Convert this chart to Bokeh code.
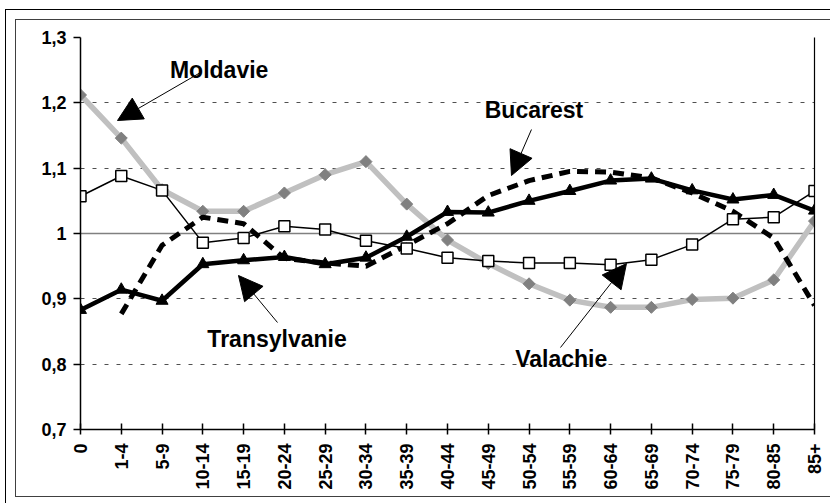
import math
from bokeh.plotting import figure
from bokeh.models import (Range1d, FixedTicker, CustomJSTickFormatter, LinearAxis, Span,
                          Label, Arrow, NormalHead, ColumnDataSource)
from bokeh.embed import file_html
from bokeh.resources import INLINE

age_groups = ["0", "1-4", "5-9", "10-14", "15-19", "20-24", "25-29", "30-34", "35-39",
              "40-44", "45-49", "50-54", "55-59", "60-64", "65-69", "70-74", "75-79",
              "80-85", "85+"]
moldavie = [1.212, 1.146, 1.067, 1.034, 1.034, 1.062, 1.090, 1.110, 1.045, 0.990,
            0.954, 0.923, 0.898, 0.887, 0.887, 0.899, 0.901, 0.929, 1.019]
valachie = [1.057, 1.088, 1.066, 0.986, 0.993, 1.011, 1.006, 0.989, 0.977, 0.963,
            0.958, 0.955, 0.955, 0.952, 0.960, 0.983, 1.022, 1.025, 1.065]
transylvanie = [0.883, 0.914, 0.897, 0.953, 0.959, 0.964, 0.953, 0.963, 0.995, 1.033,
                1.032, 1.050, 1.065, 1.081, 1.084, 1.066, 1.052, 1.059, 1.035]
bucarest = [float("nan"), 0.877, 0.982, 1.025, 1.015, 0.962, 0.955, 0.950, 0.982, 1.015,
            1.058, 1.081, 1.095, 1.094, 1.085, 1.062, 1.034, 0.993, 0.890]
y_ticks = [0.7, 0.8, 0.9, 1.0, 1.1, 1.2, 1.3]

xs = list(range(len(age_groups)))
src = ColumnDataSource(dict(x=xs, mol=moldavie, val=valachie, tra=transylvanie, buc=bucarest))

FONT = "Liberation Sans"

p = figure(width=830, height=478, output_backend="svg", toolbar_location=None,
           x_range=Range1d(0, len(age_groups) - 1), y_range=Range1d(0.7, 1.3),
           min_border_left=64, min_border_right=32, min_border_top=17, min_border_bottom=69)
p.styles = {"margin-left": "15px", "margin-top": "19px",
            "border": "1px solid #404040",
            "box-shadow": "0 0 0 9px white, 0 0 0 10px black"}
p.outline_line_color = None
p.background_fill_color = "white"
p.border_fill_color = "white"

# axes
p.xaxis.ticker = FixedTicker(ticks=xs)
p.xaxis.major_label_overrides = {i: s for i, s in enumerate(age_groups)}
p.xaxis.major_label_orientation = math.pi / 2
p.xaxis.major_tick_in = 6
p.xaxis.major_tick_out = 5
p.xaxis.minor_tick_line_color = None
p.xaxis.major_label_standoff = 9

p.yaxis.ticker = FixedTicker(ticks=y_ticks)
p.yaxis.formatter = CustomJSTickFormatter(
    code="return tick.toFixed(1).replace('.', ',').replace(',0', '');")
p.yaxis.major_tick_in = 0
p.yaxis.major_tick_out = 7
p.yaxis.minor_tick_line_color = None
p.yaxis.major_label_standoff = 7

for ax in (p.xaxis, p.yaxis):
    ax.axis_line_color = "black"
    ax.axis_line_width = 1.5
    ax.major_tick_line_color = "black"
    ax.major_tick_line_width = 1.5
    ax.major_label_text_font = FONT
    ax.major_label_text_font_style = "bold"
    ax.major_label_text_font_size = "18px"
    ax.major_label_text_color = "black"

right_ax = LinearAxis(major_tick_line_color=None, minor_tick_line_color=None,
                      major_label_text_font_size="0px", axis_line_color="black",
                      axis_line_width=1.2)
right_ax.ticker = FixedTicker(ticks=[])
p.add_layout(right_ax, "right")

p.xgrid.visible = False
p.ygrid.ticker = FixedTicker(ticks=y_ticks)
p.ygrid.grid_line_color = "#505050"
p.ygrid.grid_line_dash = "4 8"
p.ygrid.grid_line_width = 1

p.add_layout(Span(location=1.0, dimension="width", line_color="#808080", line_width=1.3,
                  level="underlay"))

# series
p.line("x", "mol", source=src, line_color="#C0C0C0", line_width=5.5)
p.scatter("x", "mol", source=src, marker="square", angle=math.pi / 4, size=8.5,
          fill_color="#808080", line_color="#808080")
p.line("x", "buc", source=src, line_color="black", line_width=5, line_dash="11 7")
p.line("x", "tra", source=src, line_color="black", line_width=4.5)
p.scatter("x", "tra", source=src, marker="triangle", size=12,
          fill_color="black", line_color="black")
p.line("x", "val", source=src, line_color="black", line_width=1.5)
p.scatter("x", "val", source=src, marker="square", size=11,
          fill_color="white", line_color="black", line_width=1.5)

# annotations
labels = [("Moldavie", 3.40, 1.251), ("Bucarest", 11.12, 1.189),
          ("Transylvanie", 4.82, 0.8388), ("Valachie", 11.79, 0.8082)]
for txt, lx, ly in labels:
    p.add_layout(Label(x=lx, y=ly, text=txt, text_align="center", text_baseline="alphabetic",
                       text_font=FONT, text_font_style="bold", text_font_size="23px",
                       text_color="black"))

arrows = [((200 - 80) / 40.78, 1.3 - (72 - 37) / 653.3, (117 - 80) / 40.78, 1.3 - (120 - 37) / 653.3),
          ((531 - 80) / 40.78, 1.3 - (129 - 37) / 653.3, (511 - 80) / 40.78, 1.3 - (175 - 37) / 653.3),
          ((277 - 80) / 40.78, 1.3 - (322 - 37) / 653.3, (238 - 80) / 40.78, 1.3 - (275 - 37) / 653.3),
          ((560 - 80) / 40.78, 1.3 - (347 - 37) / 653.3, (626 - 80) / 40.78, 1.3 - (263 - 37) / 653.3)]
for xs_, ys_, xe, ye in arrows:
    p.add_layout(Arrow(x_start=xs_, y_start=ys_, x_end=xe, y_end=ye, line_width=1,
                       line_color="black",
                       end=NormalHead(size=24, fill_color="black", line_color="black")))

open("out.html", "w").write(file_html(p, INLINE))
